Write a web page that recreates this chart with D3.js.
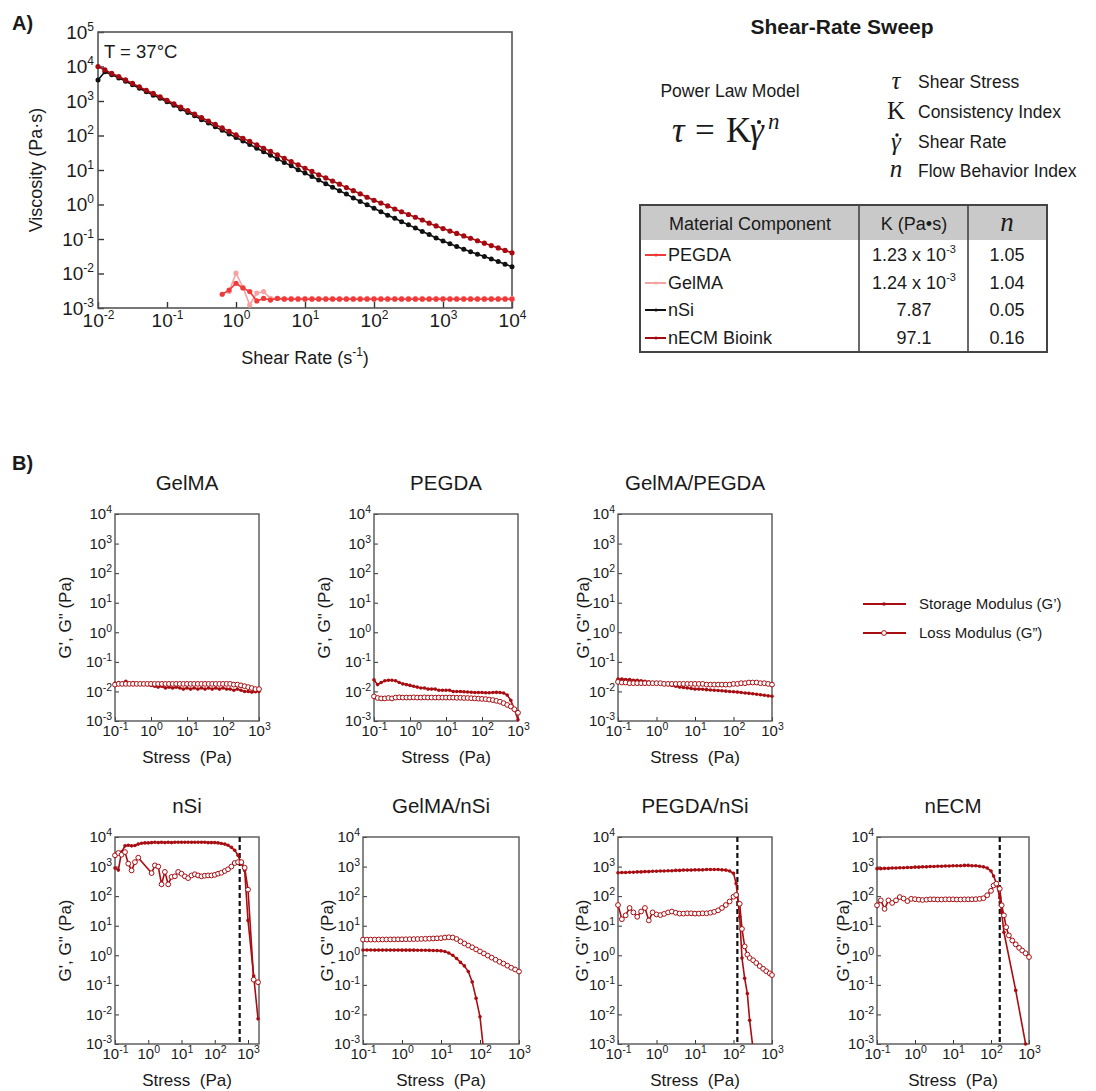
<!DOCTYPE html>
<html>
<head>
<meta charset="utf-8">
<script src="https://cdn.jsdelivr.net/npm/d3@7"></script>
<style>
body { margin: 0; background: #fff; }
text { font-family: "Liberation Sans", Arial, sans-serif; fill: #1a1a1a; }
.serif { font-family: "Liberation Serif", "Times New Roman", serif; }
</style>
</head>
<body>
<div id="fig"></div>
<script>
// ---------- Panel A: shear-rate sweep (viscosity vs shear rate) ----------
var shearRate = [
  0.01, 0.0126, 0.0158, 0.02, 0.0251, 0.0316, 0.0398, 0.0501, 0.0631, 0.0794,
  0.1, 0.126, 0.158, 0.2, 0.251, 0.316, 0.398, 0.501, 0.631, 0.794,
  1, 1.26, 1.58, 2, 2.51, 3.16, 3.98, 5.01, 6.31, 7.94,
  10, 12.6, 15.8, 20, 25.1, 31.6, 39.8, 50.1, 63.1, 79.4,
  100, 126, 158, 200, 251, 316, 398, 501, 631, 794,
  1000, 1260, 1580, 2000, 2510, 3160, 3980, 5010, 6310, 7940, 10000
];
var viscNECM = [
  10000, 7940, 6310, 5130, 4070, 3240, 2570, 2040, 1660, 1320,
  1050, 832, 661, 525, 417, 331, 263, 209, 166, 132,
  105, 83.2, 67.6, 53.7, 42.7, 34.7, 27.5, 21.9, 17.4, 14.1,
  11.2, 9.12, 7.24, 5.89, 4.79, 3.89, 3.09, 2.51, 2.04, 1.62,
  1.32, 1.10, 0.912, 0.741, 0.617, 0.513, 0.427, 0.355, 0.288, 0.240,
  0.200, 0.170, 0.145, 0.123, 0.105, 0.0891, 0.0759, 0.0646, 0.0550, 0.0468, 0.0398
];
var viscNSi = [
  4070, 7080, 5750, 4680, 3720, 2950, 2340, 1860, 1480, 1200,
  955, 759, 589, 468, 372, 288, 229, 178, 141, 110,
  87.1, 69.2, 55.0, 42.7, 33.9, 26.9, 20.9, 16.6, 13.2, 10.2,
  8.13, 6.46, 5.13, 3.98, 3.16, 2.51, 2.00, 1.55, 1.23, 0.977,
  0.776, 0.617, 0.490, 0.398, 0.316, 0.257, 0.209, 0.166, 0.135, 0.107,
  0.0871, 0.0724, 0.0603, 0.0501, 0.0427, 0.0363, 0.0309, 0.0263, 0.0224, 0.0186, 0.0158
];
// PEGDA and GelMA start at 0.631 1/s (index 18 of shearRate)
var viscPEGDA = [
  0.0025, 0.0033, 0.0052, 0.0038, 0.0030, 0.0016, 0.0019, 0.0017, 0.0019, 0.0018,
  0.0018, 0.0018, 0.0018, 0.0018, 0.0018, 0.0018, 0.0018, 0.0018, 0.0018, 0.0018,
  0.0018, 0.0018, 0.0018, 0.0018, 0.0018, 0.0018, 0.0018, 0.0018, 0.0018, 0.0018,
  0.0018, 0.0018, 0.0018, 0.0018, 0.0018, 0.0018, 0.0018, 0.0018, 0.0018, 0.0018,
  0.0018, 0.0018, 0.0018
];
var viscGelMA = [
  null, 0.0030, 0.0102, 0.0040, 0.00123, 0.0027, 0.0030, 0.0019, 0.0019, 0.0019,
  0.0019, 0.0019, 0.0019, 0.0019, 0.0019, 0.0019, 0.0019, 0.0019, 0.0019, 0.0019,
  0.0019, 0.0019, 0.0019, 0.0019, 0.0019, 0.0019, 0.0019, 0.0019, 0.0019, 0.0019,
  0.0019, 0.0019, 0.0019, 0.0019, 0.0019, 0.0019, 0.0019, 0.0019, 0.0019, 0.0019,
  0.0019, 0.0019, 0.0019
];

// table of power law fits
var tableMaterials = ["PEGDA", "GelMA", "nSi", "nECM Bioink"];
var tableK = [["1.23 x 10", "-3"], ["1.24 x 10", "-3"], ["7.87", ""], ["97.1", ""]];
var tableN = ["1.05", "1.04", "0.05", "0.16"];

// ---------- Panel B: stress sweeps (G', G'' vs stress) ----------
var stressGrid = [
  0.1, 0.126, 0.158, 0.2, 0.251, 0.316, 0.398, 0.501, 0.631, 0.794,
  1, 1.26, 1.58, 2, 2.51, 3.16, 3.98, 5.01, 6.31, 7.94,
  10, 12.6, 15.8, 20, 25.1, 31.6, 39.8, 50.1, 63.1, 79.4,
  100, 126, 158, 200, 251, 316, 398, 501, 631, 794, 1000
];

var gelmaStorage = [
  0.019, 0.020, 0.019, 0.022, 0.019, 0.020, 0.019, 0.018, 0.018, 0.017,
  0.016, 0.015, 0.014, 0.015, 0.013, 0.014, 0.013, 0.014, 0.013, 0.012,
  0.013, 0.012, 0.013, 0.012, 0.013, 0.012, 0.013, 0.012, 0.013, 0.012,
  0.013, 0.012, 0.012, 0.011, 0.012, 0.011, 0.010, 0.010, 0.0095, 0.0098, 0.010
];
var gelmaLoss = [
  0.017, 0.018, 0.018, 0.018, 0.018, 0.018, 0.018, 0.018, 0.018, 0.018,
  0.018, 0.018, 0.018, 0.018, 0.018, 0.018, 0.018, 0.018, 0.018, 0.018,
  0.018, 0.018, 0.018, 0.018, 0.018, 0.018, 0.018, 0.018, 0.018, 0.018,
  0.018, 0.018, 0.018, 0.017, 0.017, 0.016, 0.015, 0.014, 0.013, 0.012, 0.012
];
var pegdaStorage = [
  0.0245, 0.017, 0.020, 0.023, 0.024, 0.024, 0.023, 0.020, 0.018, 0.017,
  0.016, 0.015, 0.014, 0.013, 0.013, 0.012, 0.012, 0.012, 0.011, 0.011,
  0.011, 0.011, 0.010, 0.010, 0.010, 0.0098, 0.0096, 0.0094, 0.0092, 0.0092,
  0.0092, 0.0090, 0.0090, 0.0092, 0.0093, 0.0092, 0.0088, 0.0075, 0.0050, 0.0025, 0.0011
];
var pegdaLoss = [
  0.0068, 0.0060, 0.0058, 0.0058, 0.0060, 0.0058, 0.0062, 0.0063, 0.0062, 0.0062,
  0.0062, 0.0063, 0.0062, 0.0062, 0.0063, 0.0062, 0.0062, 0.0062, 0.0062, 0.0062,
  0.0062, 0.0062, 0.0062, 0.0061, 0.0061, 0.0060, 0.0060, 0.0059, 0.0058, 0.0057,
  0.0056, 0.0055, 0.0053, 0.0051, 0.0048, 0.0045, 0.0040, 0.0035, 0.0031, 0.0025, 0.0019
];
var gelmaPegdaStorage = [
  0.026, 0.026, 0.025, 0.025, 0.024, 0.024, 0.023, 0.022, 0.021, 0.020,
  0.020, 0.019, 0.018, 0.017, 0.016, 0.015, 0.014, 0.0135, 0.013, 0.0125,
  0.012, 0.012, 0.0118, 0.0115, 0.0112, 0.011, 0.0108, 0.0105, 0.0102, 0.010,
  0.0098, 0.0095, 0.0092, 0.0089, 0.0086, 0.0083, 0.0080, 0.0077, 0.0074, 0.0071, 0.0069
];
var gelmaPegdaLoss = [
  0.021, 0.020, 0.020, 0.019, 0.019, 0.019, 0.019, 0.019, 0.019, 0.019,
  0.019, 0.019, 0.018, 0.018, 0.018, 0.018, 0.018, 0.018, 0.018, 0.018,
  0.018, 0.018, 0.018, 0.017, 0.017, 0.017, 0.017, 0.017, 0.017, 0.017,
  0.018, 0.018, 0.019, 0.019, 0.020, 0.020, 0.020, 0.019, 0.019, 0.018, 0.017
];

var nsiStress = stressGrid.concat([1480, 2000]);
var nsiStorage = [
  891, 759, 3162, 5012, 5248, 5012, 5129, 5754, 6166, 6310,
  6310, 6457, 6607, 6457, 6607, 6457, 6607, 6457, 6607, 6607,
  6607, 6607, 6607, 6607, 6607, 6607, 6607, 6607, 6457, 6457,
  6457, 6310, 6026, 5754, 5248, 4467, 3548, 2399, 1259, 741, 15.1,
  0.20, 0.0071
];
var nsiLoss = [
  2399, 2884, 2512, 3090, 1259, 741, 1413, 1995, null, null,
  null, 603, 1096, 1000, 251, 661, 251, 447, 468, 661,
  575, 468, 407, 501, 550, 501, 468, 490, 501, 501,
  525, 575, 617, 708, 813, 1000, 1318, 1413, 1413, 912, 166,
  0.15, 0.123
];

var gelmaNsiStorage = [
  1.51, 1.51, 1.51, 1.50, 1.50, 1.50, 1.50, 1.50, 1.50, 1.50,
  1.49, 1.49, 1.49, 1.49, 1.48, 1.48, 1.48, 1.47, 1.46, 1.44,
  1.41, 1.35, 1.20, 1.00, 0.78, 0.575, 0.437, 0.282, 0.126, 0.035,
  0.0083, 0.0005, null, null, null, null, null, null, null, null, null
];
var gelmaNsiLoss = [
  3.39, 3.39, 3.40, 3.40, 3.41, 3.42, 3.43, 3.44, 3.45, 3.46,
  3.47, 3.48, 3.50, 3.52, 3.55, 3.58, 3.61, 3.65, 3.70, 3.75,
  3.80, 3.98, 4.07, 3.98, 3.55, 2.95, 2.51, 2.14, 1.86, 1.58,
  1.35, 1.15, 0.977, 0.832, 0.708, 0.603, 0.525, 0.447, 0.380, 0.331, 0.282
];

var pegdaNsiStress = stressGrid.slice(0, 31).concat([117, 145, 166, 195, 229, 263, 324, 389, 479, 589, 708, 871, 1000]);
var pegdaNsiStorage = [
  617, 631, 631, 646, 646, 661, 661, 676, 676, 692,
  692, 708, 708, 724, 724, 741, 741, 759, 759, 759,
  776, 776, 776, 794, 794, 794, 794, 776, 759, 708, 589,
  269, 20, 0.81, 0.166, 0.051, 0.0063, 0.00063, null, null, null, null, null, null
];
var pegdaNsiLoss = [
  50.1, 16.6, 22.4, 39.8, 28.2, 20.0, 30.2, 39.8, 15.1, 28.2,
  24.0, 22.9, 25.1, 28.2, 30.2, 27.5, 25.7, 25.7, 26.3, 26.3,
  25.7, 25.7, 26.3, 26.3, 27.5, 29.5, 33.1, 39.8, 50.1, 66.1, 95.5,
  110, 55, 7.8, 2.0, 1.05, 0.81, 0.68, 0.55, 0.43, 0.35, 0.29, 0.245, 0.214
];

var necmStress = stressGrid.slice(0, 31).concat([117, 138, 170, 191, 219, 251, 295, 363, 447, 550, 661, 813, 1000]);
var necmStorage = [
  851, 851, 871, 871, 891, 891, 912, 912, 933, 933,
  955, 955, 977, 977, 1000, 1000, 1023, 1023, 1047, 1047,
  1072, 1072, 1072, 1096, 1096, 1072, 1072, 1023, 977, 891, 708,
  479, 282, 89, 28, 6.0, null, null, null, 0.065, null, null, 0.001, null
];
var necmLoss = [
  49, 72, 37, 72, 59, 72, 93, 83, 68, 81,
  79, 76, 74, 76, 78, 78, 77, 77, 78, 78,
  78, 77, 77, 78, 78, 78, 79, 81, 85, 107, 151,
  229, 263, 178, 49, 22.4, 8.9, 4.7, 3.16, 2.34, 1.78, 1.45, 1.17, 0.87
];

var panelTitles = ["GelMA", "PEGDA", "GelMA/PEGDA", "nSi", "GelMA/nSi", "PEGDA/nSi", "nECM"];
var panelStress = [stressGrid, stressGrid, stressGrid, nsiStress, stressGrid, pegdaNsiStress, necmStress];
var panelStorage = [gelmaStorage, pegdaStorage, gelmaPegdaStorage, nsiStorage, gelmaNsiStorage, pegdaNsiStorage, necmStorage];
var panelLoss = [gelmaLoss, pegdaLoss, gelmaPegdaLoss, nsiLoss, gelmaNsiLoss, pegdaNsiLoss, necmLoss];
var panelXMax = [1000, 1000, 1000, 2140, 1000, 1000, 1000];
var yieldStress = [null, null, null, 562, null, 126, 170];
var legendLabels = ["Storage Modulus (G\u2019)", "Loss Modulus (G\u201D)"];

// ---------- layout ----------
var svgWidth = 1096, svgHeight = 1091;
var boxA = {left: 98, right: 512, top: 32, bottom: 308};
var panelBoxes = [
  {x0: 115, x1: 259, y0: 514, y1: 721, lab: 50},
  {x0: 374, x1: 518, y0: 514, y1: 721, lab: 50},
  {x0: 618, x1: 772, y0: 514, y1: 721, lab: 35},
  {x0: 115, x1: 259, y0: 837, y1: 1044, lab: 50},
  {x0: 363, x1: 519, y0: 837, y1: 1044, lab: 36},
  {x0: 618, x1: 772, y0: 837, y1: 1044, lab: 36},
  {x0: 877, x1: 1029, y0: 837, y1: 1044, lab: 34}
];
var darkRed = "#a80d12";
var seriesColors = {PEGDA: "#f03a3a", GelMA: "#f5a3a3", nSi: "#111111", nECM: "#a60a10"};

var svg = d3.select("#fig").append("svg")
  .attr("width", svgWidth)
  .attr("height", svgHeight);

// turn tick text "e" into 10^e
function powTicks(g, base, sup, rise) {
  g.selectAll(".tick text").each(function(d) {
    var e = Math.round(Math.log10(d));
    var t = d3.select(this).text(null).attr("font-size", base);
    t.append("tspan").text("10");
    t.append("tspan").attr("font-size", sup).attr("dy", -rise).text(e);
  });
}

function decades(lo, hi) {
  return d3.range(lo, hi + 1).map(function(e) { return Math.pow(10, e); });
}

// ===== Panel A =====
svg.append("text").attr("x", 12).attr("y", 30)
  .attr("font-size", 20).attr("font-weight", "bold").text("A)");

var xA = d3.scaleLog().domain([1e-2, 1e4]).range([boxA.left, boxA.right]);
var yA = d3.scaleLog().domain([1e-3, 1e5]).range([boxA.bottom, boxA.top]);

svg.append("g")
  .attr("transform", `translate(0, ${boxA.bottom})`)
  .call(d3.axisBottom(xA).tickValues(decades(-2, 4)).tickSizeInner(-6).tickSizeOuter(0).tickPadding(6))
  .call(function(g) { g.select(".domain").remove(); g.selectAll(".tick line").attr("stroke", "#333").attr("stroke-width", 1.4); })
  .call(powTicks, 19, 12, 8);

svg.append("g")
  .attr("transform", `translate(${boxA.left}, 0)`)
  .call(d3.axisLeft(yA).tickValues(decades(-3, 5)).tickSizeInner(-6).tickSizeOuter(0).tickPadding(4))
  .call(function(g) { g.select(".domain").remove(); g.selectAll(".tick line").attr("stroke", "#333").attr("stroke-width", 1.4); })
  .call(powTicks, 19, 12, 8);

svg.append("rect")
  .attr("x", boxA.left).attr("y", boxA.top)
  .attr("width", boxA.right - boxA.left).attr("height", boxA.bottom - boxA.top)
  .attr("fill", "none").attr("stroke", "#555").attr("stroke-width", 1.6);

function drawViscosity(xs, ys, color, r) {
  var pts = xs.map(function(x, i) { return {x: x, y: ys[i]}; })
    .filter(function(d) { return d.y != null; });
  var line = d3.line().x(function(d) { return xA(d.x); }).y(function(d) { return yA(d.y); });
  svg.append("path").datum(pts)
    .attr("d", line).attr("fill", "none").attr("stroke", color).attr("stroke-width", 1.6);
  svg.append("g").selectAll("circle").data(pts).enter().append("circle")
    .attr("cx", function(d) { return xA(d.x); })
    .attr("cy", function(d) { return yA(d.y); })
    .attr("r", r).attr("fill", color);
}

var lowRates = shearRate.slice(18);
drawViscosity(lowRates, viscGelMA, seriesColors.GelMA, 2.6);
drawViscosity(lowRates, viscPEGDA, seriesColors.PEGDA, 2.6);
drawViscosity(shearRate, viscNSi, seriesColors.nSi, 2.5);
drawViscosity(shearRate, viscNECM, seriesColors.nECM, 2.6);

svg.append("text").attr("x", 104).attr("y", 58).attr("font-size", 18.5).text("T = 37\u00B0C");

svg.append("text")
  .attr("transform", "translate(42, 170) rotate(-90)")
  .attr("text-anchor", "middle").attr("font-size", 18)
  .text("Viscosity (Pa\u00B7s)");

var xLabA = svg.append("text").attr("x", 305).attr("y", 364)
  .attr("text-anchor", "middle").attr("font-size", 18);
xLabA.append("tspan").text("Shear Rate (s");
xLabA.append("tspan").attr("font-size", 12).attr("dy", -8).text("-1");
xLabA.append("tspan").attr("dy", 8).text(")");

// ===== Right side: model + table =====
svg.append("text").attr("x", 842).attr("y", 34)
  .attr("text-anchor", "middle").attr("font-size", 21).attr("font-weight", "bold")
  .text("Shear-Rate Sweep");

svg.append("text").attr("x", 730).attr("y", 97)
  .attr("text-anchor", "middle").attr("font-size", 17.5).text("Power Law Model");

var eq = svg.append("text").attr("class", "serif").attr("y", 142).attr("font-size", 35);
eq.append("tspan").attr("x", 672).attr("font-style", "italic").text("\u03C4");
eq.append("tspan").attr("x", 695).text("=");
eq.append("tspan").attr("x", 726).text("K");
eq.append("tspan").attr("x", 750).attr("font-style", "italic").text("\u03B3");
eq.append("tspan").attr("x", 768).attr("dy", -13).attr("font-size", 23).attr("font-style", "italic").text("n");
// dot over gamma (shear rate)
svg.append("circle").attr("cx", 759).attr("cy", 122).attr("r", 2.1).attr("fill", "#1a1a1a");

var symbolChars = ["\u03C4", "K", "\u03B3", "n"];
var symbolStyle = ["italic", "normal", "italic", "italic"];
var symbolBase = [89, 119, 150, 177];
var symbolNames = ["Shear Stress", "Consistency Index", "Shear Rate", "Flow Behavior Index"];
symbolChars.forEach(function(c, i) {
  svg.append("text").attr("class", "serif").attr("x", 896).attr("y", symbolBase[i])
    .attr("text-anchor", "middle").attr("font-size", 25).attr("font-style", symbolStyle[i]).text(c);
  svg.append("text").attr("x", 918).attr("y", [88, 118, 148, 177][i])
    .attr("font-size", 17.5).text(symbolNames[i]);
});
svg.append("circle").attr("cx", 897).attr("cy", 135).attr("r", 1.7).attr("fill", "#1a1a1a");

// table
var tbl = {left: 640, right: 1047, top: 205, head: 240, bottom: 352, c1: 859, c2: 968};
svg.append("rect").attr("x", tbl.left).attr("y", tbl.top)
  .attr("width", tbl.right - tbl.left).attr("height", tbl.head - tbl.top).attr("fill", "#c9c9c9");
svg.append("rect").attr("x", tbl.left).attr("y", tbl.top)
  .attr("width", tbl.right - tbl.left).attr("height", tbl.bottom - tbl.top)
  .attr("fill", "none").attr("stroke", "#444").attr("stroke-width", 2);
[tbl.c1, tbl.c2].forEach(function(cx) {
  svg.append("line").attr("x1", cx).attr("x2", cx).attr("y1", tbl.top).attr("y2", tbl.bottom)
    .attr("stroke", "#444").attr("stroke-width", 1.6);
});
svg.append("text").attr("x", 750).attr("y", 230).attr("text-anchor", "middle").attr("font-size", 18).text("Material Component");
svg.append("text").attr("x", 914).attr("y", 230).attr("text-anchor", "middle").attr("font-size", 18).text("K (Pa\u2022s)");
svg.append("text").attr("class", "serif").attr("x", 1007).attr("y", 231).attr("text-anchor", "middle")
  .attr("font-size", 27).attr("font-style", "italic").text("n");

var rowY = [261, 289, 316, 344];
var rowColors = [seriesColors.PEGDA, seriesColors.GelMA, seriesColors.nSi, seriesColors.nECM];
tableMaterials.forEach(function(m, i) {
  var y = rowY[i] - 6;
  svg.append("line").attr("x1", 645).attr("x2", 666).attr("y1", y).attr("y2", y)
    .attr("stroke", rowColors[i]).attr("stroke-width", 2);
  svg.append("circle").attr("cx", 656).attr("cy", y).attr("r", 1.6).attr("fill", rowColors[i]);
  svg.append("text").attr("x", 668).attr("y", rowY[i]).attr("font-size", 18).text(m);
  var k = svg.append("text").attr("x", 914).attr("y", rowY[i]).attr("text-anchor", "middle").attr("font-size", 18);
  k.append("tspan").text(tableK[i][0]);
  if (tableK[i][1]) k.append("tspan").attr("font-size", 11).attr("dy", -8).text(tableK[i][1]);
  svg.append("text").attr("x", 1007).attr("y", rowY[i]).attr("text-anchor", "middle").attr("font-size", 18).text(tableN[i]);
});

// ===== Panel B =====
svg.append("text").attr("x", 12).attr("y", 470)
  .attr("font-size", 20).attr("font-weight", "bold").text("B)");

function drawModulusPanel(i) {
  var b = panelBoxes[i];
  var x = d3.scaleLog().domain([0.1, panelXMax[i]]).range([b.x0, b.x1]);
  var y = d3.scaleLog().domain([1e-3, 1e4]).range([b.y1, b.y0]);
  var g = svg.append("g");
  var clipId = "clip" + i;

  g.append("clipPath").attr("id", clipId).append("rect")
    .attr("x", b.x0).attr("y", b.y0).attr("width", b.x1 - b.x0).attr("height", b.y1 - b.y0);

  g.append("g")
    .attr("transform", `translate(0, ${b.y1})`)
    .call(d3.axisBottom(x).tickValues(decades(-1, 3)).tickSizeInner(-4).tickSizeOuter(0).tickPadding(4))
    .call(function(a) { a.select(".domain").remove(); a.selectAll(".tick line").attr("stroke", "#333"); })
    .call(powTicks, 15, 10.5, 6);

  g.append("g")
    .attr("transform", `translate(${b.x0}, 0)`)
    .call(d3.axisLeft(y).tickValues(decades(-3, 4)).tickSizeInner(-4).tickSizeOuter(0).tickPadding(3))
    .call(function(a) { a.select(".domain").remove(); a.selectAll(".tick line").attr("stroke", "#333"); })
    .call(powTicks, 15, 10.5, 6);

  g.append("rect").attr("x", b.x0).attr("y", b.y0)
    .attr("width", b.x1 - b.x0).attr("height", b.y1 - b.y0)
    .attr("fill", "none").attr("stroke", "#555").attr("stroke-width", 1.4);

  g.append("text").attr("x", (b.x0 + b.x1) / 2).attr("y", b.y0 - 24)
    .attr("text-anchor", "middle").attr("font-size", 20.5).text(panelTitles[i]);

  g.append("text").attr("x", (b.x0 + b.x1) / 2).attr("y", b.y1 + 42)
    .attr("text-anchor", "middle").attr("font-size", 17).text("Stress\u00A0 (Pa)");

  g.append("text")
    .attr("transform", `translate(${b.x0 - b.lab + 6}, ${(b.y0 + b.y1) / 2}) rotate(-90)`)
    .attr("text-anchor", "middle").attr("font-size", 17).text("G', G\" (Pa)");

  if (yieldStress[i]) {
    g.append("line")
      .attr("x1", x(yieldStress[i])).attr("x2", x(yieldStress[i]))
      .attr("y1", b.y0).attr("y2", b.y1)
      .attr("stroke", "#111").attr("stroke-width", 2.2).attr("stroke-dasharray", "5,3");
  }

  var line = d3.line().x(function(d) { return x(d.x); }).y(function(d) { return y(d.y); });
  var xs = panelStress[i];
  [panelStorage[i], panelLoss[i]].forEach(function(vals, s) {
    var pts = xs.map(function(v, k) { return {x: v, y: vals[k]}; })
      .filter(function(d) { return d.y != null; });
    g.append("path").datum(pts).attr("clip-path", `url(#${clipId})`)
      .attr("d", line).attr("fill", "none").attr("stroke", darkRed).attr("stroke-width", 1.6);
    var inside = pts.filter(function(d) { return d.y >= 0.00099; });
    g.append("g").selectAll("circle").data(inside).enter().append("circle")
      .attr("cx", function(d) { return x(d.x); })
      .attr("cy", function(d) { return y(d.y); })
      .attr("r", s === 0 ? 1.8 : 2.4)
      .attr("fill", s === 0 ? darkRed : "#fff")
      .attr("stroke", darkRed).attr("stroke-width", s === 0 ? 0 : 1);
  });
}

panelTitles.forEach(function(t, i) { drawModulusPanel(i); });

// legend for panel B
legendLabels.forEach(function(lbl, i) {
  var y = 604 + i * 29;
  svg.append("line").attr("x1", 863).attr("x2", 906).attr("y1", y).attr("y2", y)
    .attr("stroke", darkRed).attr("stroke-width", 2);
  svg.append("circle").attr("cx", 884).attr("cy", y).attr("r", i === 0 ? 1.8 : 2.4)
    .attr("fill", i === 0 ? darkRed : "#fff").attr("stroke", darkRed).attr("stroke-width", i === 0 ? 0 : 1);
  svg.append("text").attr("x", 919).attr("y", y + 5).attr("font-size", 15).text(lbl);
});
</script>
</body>
</html>
